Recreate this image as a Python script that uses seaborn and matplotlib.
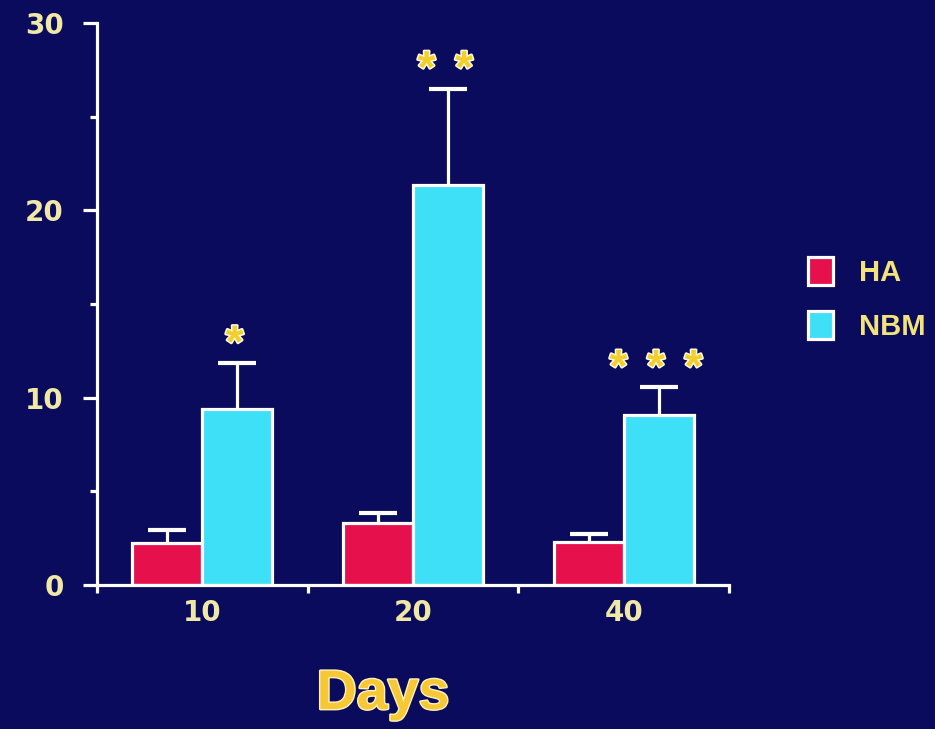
import matplotlib
matplotlib.use("Agg")
import matplotlib.pyplot as plt
import matplotlib.patheffects as pe
from matplotlib.ticker import FixedLocator
import numpy as np
import pandas as pd
import seaborn as sns

# Group means and upper error (SEM) per time point
days = ["10", "20", "40"]
groups = ["HA", "NBM"]
ha_values = [2.24, 3.31, 2.3]
ha_errors = [0.70, 0.53, 0.43]
nbm_values = [9.40, 21.35, 9.1]
nbm_errors = [2.45, 5.15, 1.45]
significance = ["*", "**", "***"]
y_ticks = [0, 10, 20, 30]

BG = "#0a0b5c"
TICK_TXT = "#efe8a6"
BAR_COLORS = {"HA": "#e5104c", "NBM": "#3ee0f8"}

df = pd.DataFrame({
    "day": days * 2,
    "group": ["HA"] * 3 + ["NBM"] * 3,
    "value": ha_values + nbm_values,
})

sns.set_theme(style="white")
plt.rcParams["font.family"] = ["DejaVu Sans"]

fig = plt.figure(figsize=(9.35, 7.29), dpi=100, facecolor=BG)
ax = fig.add_axes([0.1037, 0.1975, 0.676, 0.771])
ax.set_facecolor(BG)

sns.barplot(data=df, x="day", y="value", hue="group", order=days,
            hue_order=groups, palette=BAR_COLORS, saturation=1, width=0.665,
            edgecolor="white", linewidth=2.3, errorbar=None, ax=ax)
bar_sets = list(ax.containers)

# Upper-only error bars on each bar (cap only at the top end)
for cont, errs in zip(bar_sets, [ha_errors, nbm_errors]):
    xs = [p.get_x() + p.get_width() / 2 for p in cont.patches]
    hs = [p.get_height() for p in cont.patches]
    _, caps, _ = ax.errorbar(xs, hs, yerr=[np.zeros(len(errs)), errs],
                             fmt="none", ecolor="white", elinewidth=2.3,
                             capsize=13.5, capthick=3, zorder=1)
    for cap in caps:
        if np.allclose(cap.get_ydata(), hs):
            cap.set_visible(False)

# Significance stars above the NBM error bars
star_fx = [pe.withStroke(linewidth=2.2, foreground="#fffbe6")]
nbm_bars = bar_sets[1].patches
for bar, err, mark in zip(nbm_bars, nbm_errors, significance):
    xc = bar.get_x() + bar.get_width() / 2
    top = bar.get_height() + err
    n = len(mark)
    for k in range(n):
        dx = (k - (n - 1) / 2) * 27
        ax.annotate("*", xy=(xc, top), xytext=(dx - 2, -3),
                    textcoords="offset points", ha="center", va="bottom",
                    fontsize=33, fontweight="bold", color="#f2cf2a",
                    family="Liberation Sans", path_effects=star_fx)

ax.set_xlim(-0.5, 2.5)
ax.set_ylim(0, 30)
sns.despine(ax=ax)
for side in ["left", "bottom"]:
    ax.spines[side].set_color("white")
    ax.spines[side].set_linewidth(2.3)

ax.set_yticks(y_ticks)
ax.yaxis.set_minor_locator(FixedLocator([5, 15, 25]))
ax.tick_params(axis="y", which="major", length=10, width=2.3, color="white",
               left=True, pad=14, labelsize=20, labelcolor=TICK_TXT)
ax.tick_params(axis="y", which="minor", length=5, width=2.3, color="white",
               left=True)
for lab in ax.get_yticklabels():
    lab.set_fontweight("bold")

ax.xaxis.set_minor_locator(FixedLocator([-0.5, 0.5, 1.5, 2.5]))
ax.tick_params(axis="x", which="major", length=0, pad=10, labelsize=20,
               labelcolor=TICK_TXT)
ax.tick_params(axis="x", which="minor", length=6, width=2.3, color="white",
               bottom=True)
for lab in ax.get_xticklabels():
    lab.set_fontweight("bold")

ax.set_ylabel("")
ax.set_xlabel("")
fig.text(383 / 935, 1 - 709 / 729, "Days", ha="center", va="baseline",
         fontsize=40, fontweight="bold", color="#f6c835",
         family="Liberation Sans",
         path_effects=[pe.withStroke(linewidth=2, foreground="#fff2c0")])

ax.get_legend().remove()
handles = [c.patches[0] for c in bar_sets]
leg = fig.legend(handles, groups, loc="upper left",
                 bbox_to_anchor=(0.8486, 0.668), frameon=False,
                 prop={"family": "Liberation Sans", "weight": "bold",
                       "size": 21},
                 handlelength=0.86, handleheight=1.1, labelspacing=0.85,
                 handletextpad=0.9, borderpad=0)
for t in leg.get_texts():
    t.set_color("#f3e37a")

fig.savefig("out.png", dpi=100, facecolor=BG)
